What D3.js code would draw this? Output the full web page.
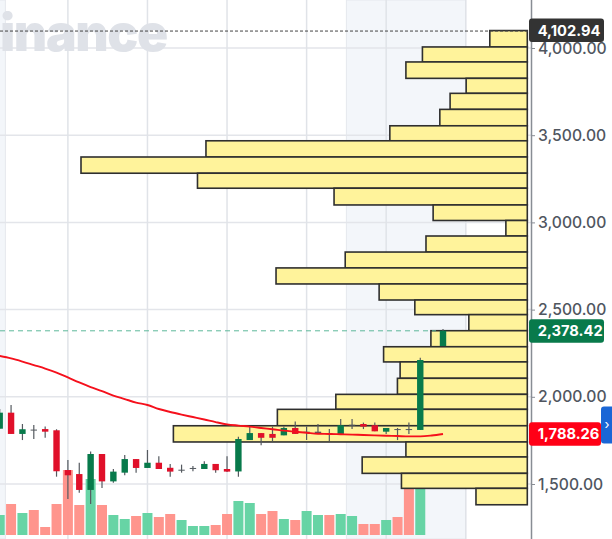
<!DOCTYPE html>
<html>
<head>
<meta charset="utf-8">
<script src="https://cdn.jsdelivr.net/npm/d3@7"></script>
<style>
  html, body { margin: 0; padding: 0; background: #fff; }
  svg { display: block; }
</style>
</head>
<body>
<div id="viz"></div>
<script>
// candles, one per day (the gap at index 38 has no candle in the picture)
var opens  = [1817,1909,1787,1812,1815,1808,1580,1557,1466,1672,1515,1565,1643,1592,1622,1593,1578,1588,1586,1615,1586,1572,1752,1792,1787,1779,1821,1797,1792,1792,1787,1837,1844,1837,1800,1815,1815,1810,null,2291];
var closes = [1909,1787,1814,1808,1800,1573,1550,1466,1672,1515,1571,1643,1592,1622,1586,1571,1582,1592,1615,1579,1571,1758,1792,1765,1765,1821,1787,1800,1800,1788,1837,1840,1829,1802,1821,1811,1811,2211,null,2379];
var highs  = [1930,1953,1844,1838,1829,1814,1638,1622,1687,1672,1586,1666,1643,1695,1659,1615,1611,1603,1630,1615,1659,1771,1829,1792,1829,1829,1859,1829,1844,1815,1873,1873,1852,1852,1821,1821,1852,2224,null,2389];
var lows   = [1817,1787,1752,1758,1765,1542,1414,1450,1385,1477,1507,1550,1565,1592,1586,1542,1565,1573,1586,1565,1569,1542,1752,1722,1745,1779,1787,1752,1787,1745,1787,1815,1815,1802,1787,1752,1787,1810,null,2291];
var volumes = [20,31,22,25,8,31,65,30,56,30,20,16,19,22,18,21,15,9,9,10,21,34,32,21,24,16,15,24,20,20,21,19,11,11,15,18,62,90,null,null];
var movingAvg = [2234,2220,2202,2182,2162,2139,2111,2082,2056,2033,2007,1987,1967,1953,1930,1913,1898,1884,1870,1855,1842,1835,1829,1821,1814,1806,1800,1794,1788,1787,1785,1783,1781,1779,1777,1775,1773,1773,1778,1787];

// volume profile, one value per price bucket, top bucket first
var profileEdges = [4100,4006,3920,3826,3740,3648,3554,3468,3375,3282,3196,3100,3011,2922,2830,2739,2647,2555,2471,2379,2287,2200,2106,2014,1928,1834,1741,1655,1561,1475,1381];
var profileVolumes = [8.4,23.5,27.2,13.7,17.3,19.6,30.8,72,100,73.9,43.3,21.1,4.8,22.7,40.8,56.3,33.2,25.2,13.1,21.6,32.2,28.5,29.1,42.9,56,79.3,27.2,37,28.2,11.5];

var priceTicks = [1500,2000,2500,3000,3500,4000];
var weekLines = [6,13,20,27,34,41];
var shadeBands = [[-3,0.5],[30.5,41]];
var priceTags = [
  { value: 4102.94, fill: "#333333" },
  { value: 2378.42, fill: "#087a4b" },
  { value: 1788.26, fill: "#ff0016" }
];

var width = 612, height = 539;
var fmt = d3.format(",.2f");
var green = "#087a4b", red = "#e0102a", wick = "#555a60";

var x = d3.scaleLinear().domain([0, 39]).range([-0.3, 443]);
var y = d3.scaleLinear().domain([1500, 4000]).range([484, 48]);
var volY = d3.scaleLinear().domain([0, 100]).range([535, 435]);
var profX = d3.scaleLinear().domain([0, 100]).range([527.3, 81]);

var svg = d3.select("#viz").append("svg")
    .attr("width", width)
    .attr("height", height)
    .style("font-family", "Inter, sans-serif");

svg.selectAll(".shade")
    .data(shadeBands)
    .enter().append("rect")
    .attr("x", function(d) { return x(d[0]); })
    .attr("y", 0)
    .attr("width", function(d) { return x(d[1]) - x(d[0]); })
    .attr("height", height)
    .style("fill", "#f3f6fa")
    .style("stroke", "#e6e8ed")
    .style("stroke-width", 1);

svg.selectAll(".hgrid")
    .data(priceTicks)
    .enter().append("line")
    .attr("x1", 0)
    .attr("x2", 531)
    .attr("y1", function(d) { return y(d); })
    .attr("y2", function(d) { return y(d); })
    .style("stroke", "#e3e5ea")
    .style("stroke-width", 1.5);

svg.selectAll(".vgrid")
    .data(weekLines)
    .enter().append("line")
    .attr("x1", function(d) { return x(d); })
    .attr("x2", function(d) { return x(d); })
    .attr("y1", 0)
    .attr("y2", height)
    .style("stroke", "#e0e3e8")
    .style("stroke-width", 1.5);

// watermark, starts right at the left edge
svg.append("text")
    .attr("x", 0)
    .attr("y", 51)
    .style("font-size", "51.5px")
    .style("font-weight", 900)
    .style("letter-spacing", "-1.4px")
    .style("fill", "#dfe2e8")
    .text("inance");

var idx = d3.range(opens.length).filter(function(i) { return volumes[i] !== null; });

svg.selectAll(".vol")
    .data(idx)
    .enter().append("rect")
    .attr("x", function(i) { return x(i) - 5; })
    .attr("y", function(i) { return volY(volumes[i]); })
    .attr("width", 10)
    .attr("height", function(i) { return volY(0) - volY(volumes[i]); })
    .style("fill", function(i) { return closes[i] >= opens[i] ? "#5fd2a0" : "#ff8f87"; })
    .style("fill-opacity", 0.95);

svg.selectAll(".profile")
    .data(profileVolumes)
    .enter().append("rect")
    .attr("x", function(d) { return profX(d); })
    .attr("y", function(d, i) { return y(profileEdges[i]); })
    .attr("width", function(d) { return profX(0) - profX(d); })
    .attr("height", function(d, i) { return y(profileEdges[i + 1]) - y(profileEdges[i]); })
    .style("fill", "#fff39b")
    .style("stroke", "#2f2f2f")
    .style("stroke-width", 1.6);

// price lines
svg.selectAll(".priceLine")
    .data(priceTags.slice(0, 2))
    .enter().append("line")
    .attr("x1", 0)
    .attr("x2", function(d, i) { return i ? 436 : 531; })
    .attr("y1", function(d, i) { return y(d.value) + (i ? 0 : 1); })
    .attr("y2", function(d, i) { return y(d.value) + (i ? 0 : 1); })
    .style("stroke", function(d, i) { return i ? "#5db89a" : "#444"; })
    .style("stroke-width", 1)
    .style("stroke-dasharray", function(d, i) { return i ? "5,4" : "3,2"; });

var candleIdx = d3.range(opens.length).filter(function(i) { return opens[i] !== null; });

svg.selectAll(".wick")
    .data(candleIdx)
    .enter().append("line")
    .attr("x1", function(i) { return x(i); })
    .attr("x2", function(i) { return x(i); })
    .attr("y1", function(i) { return y(highs[i]); })
    .attr("y2", function(i) { return y(lows[i]); })
    .style("stroke", wick)
    .style("stroke-width", 1.2);

svg.selectAll(".body")
    .data(candleIdx)
    .enter().append("rect")
    .attr("x", function(i) { return x(i) - 3.2; })
    .attr("y", function(i) { return y(Math.max(opens[i], closes[i])); })
    .attr("width", 6.4)
    .attr("height", function(i) { return Math.max(1, Math.abs(y(opens[i]) - y(closes[i]))); })
    .style("fill", function(i) {
      // dojis read as dark crosses
      if(Math.abs(opens[i] - closes[i]) <= 8) return wick;
      return closes[i] >= opens[i] ? green : red;
    });

var line = d3.line()
    .x(function(d, i) { return x(i); })
    .y(function(d) { return y(d); })
    .curve(d3.curveMonotoneX);

svg.append("path")
    .datum(movingAvg)
    .attr("d", line)
    .style("fill", "none")
    .style("stroke", "#f5101c")
    .style("stroke-width", 1.9);

// right axis
var axis = d3.axisRight(y)
    .tickValues(priceTicks)
    .tickFormat(fmt)
    .tickSize(4)
    .tickPadding(3);

svg.append("rect")
    .attr("x", 531)
    .attr("y", 0)
    .attr("width", 81)
    .attr("height", height)
    .style("fill", "#fff");

var axisG = svg.append("g")
    .attr("transform", "translate(531,0)")
    .call(axis);
axisG.select(".domain")
    .attr("d", "M0.5,0V" + height)
    .style("stroke", "#888d94")
    .style("stroke-width", 1.5);
axisG.selectAll(".tick line").style("stroke", "#888d94");
axisG.selectAll(".tick text")
    .style("font-family", "Inter, sans-serif")
    .style("font-size", "15.7px")
    .style("font-weight", 500)
    .style("fill", "#50565f");

// blue side tab
svg.append("rect")
    .attr("x", 601)
    .attr("y", 406.5)
    .attr("width", 16)
    .attr("height", 37)
    .attr("rx", 3)
    .style("fill", "#1a66d6");
svg.append("text")
    .attr("x", 607)
    .attr("y", 429)
    .attr("text-anchor", "middle")
    .style("font-size", "13px")
    .style("fill", "#fff")
    .text("›");

// value tags on the axis
var tags = svg.selectAll(".tag")
    .data(priceTags)
    .enter().append("g")
    .attr("transform", function(d) { return "translate(529," + y(d.value) + ")"; });
tags.append("rect")
    .attr("x", 0)
    .attr("y", -11.5)
    .attr("width", function(d) { return d.value === 1788.26 ? 72 : 75; })
    .attr("height", 23.5)
    .attr("rx", 3)
    .style("fill", function(d) { return d.fill; });
tags.append("text")
    .attr("x", 8.7)
    .attr("y", 5.5)
    .style("font-size", "14.7px")
    .style("font-weight", 700)
    .style("fill", "#fff")
    .text(function(d) { return fmt(d.value); });
</script>
</body>
</html>
